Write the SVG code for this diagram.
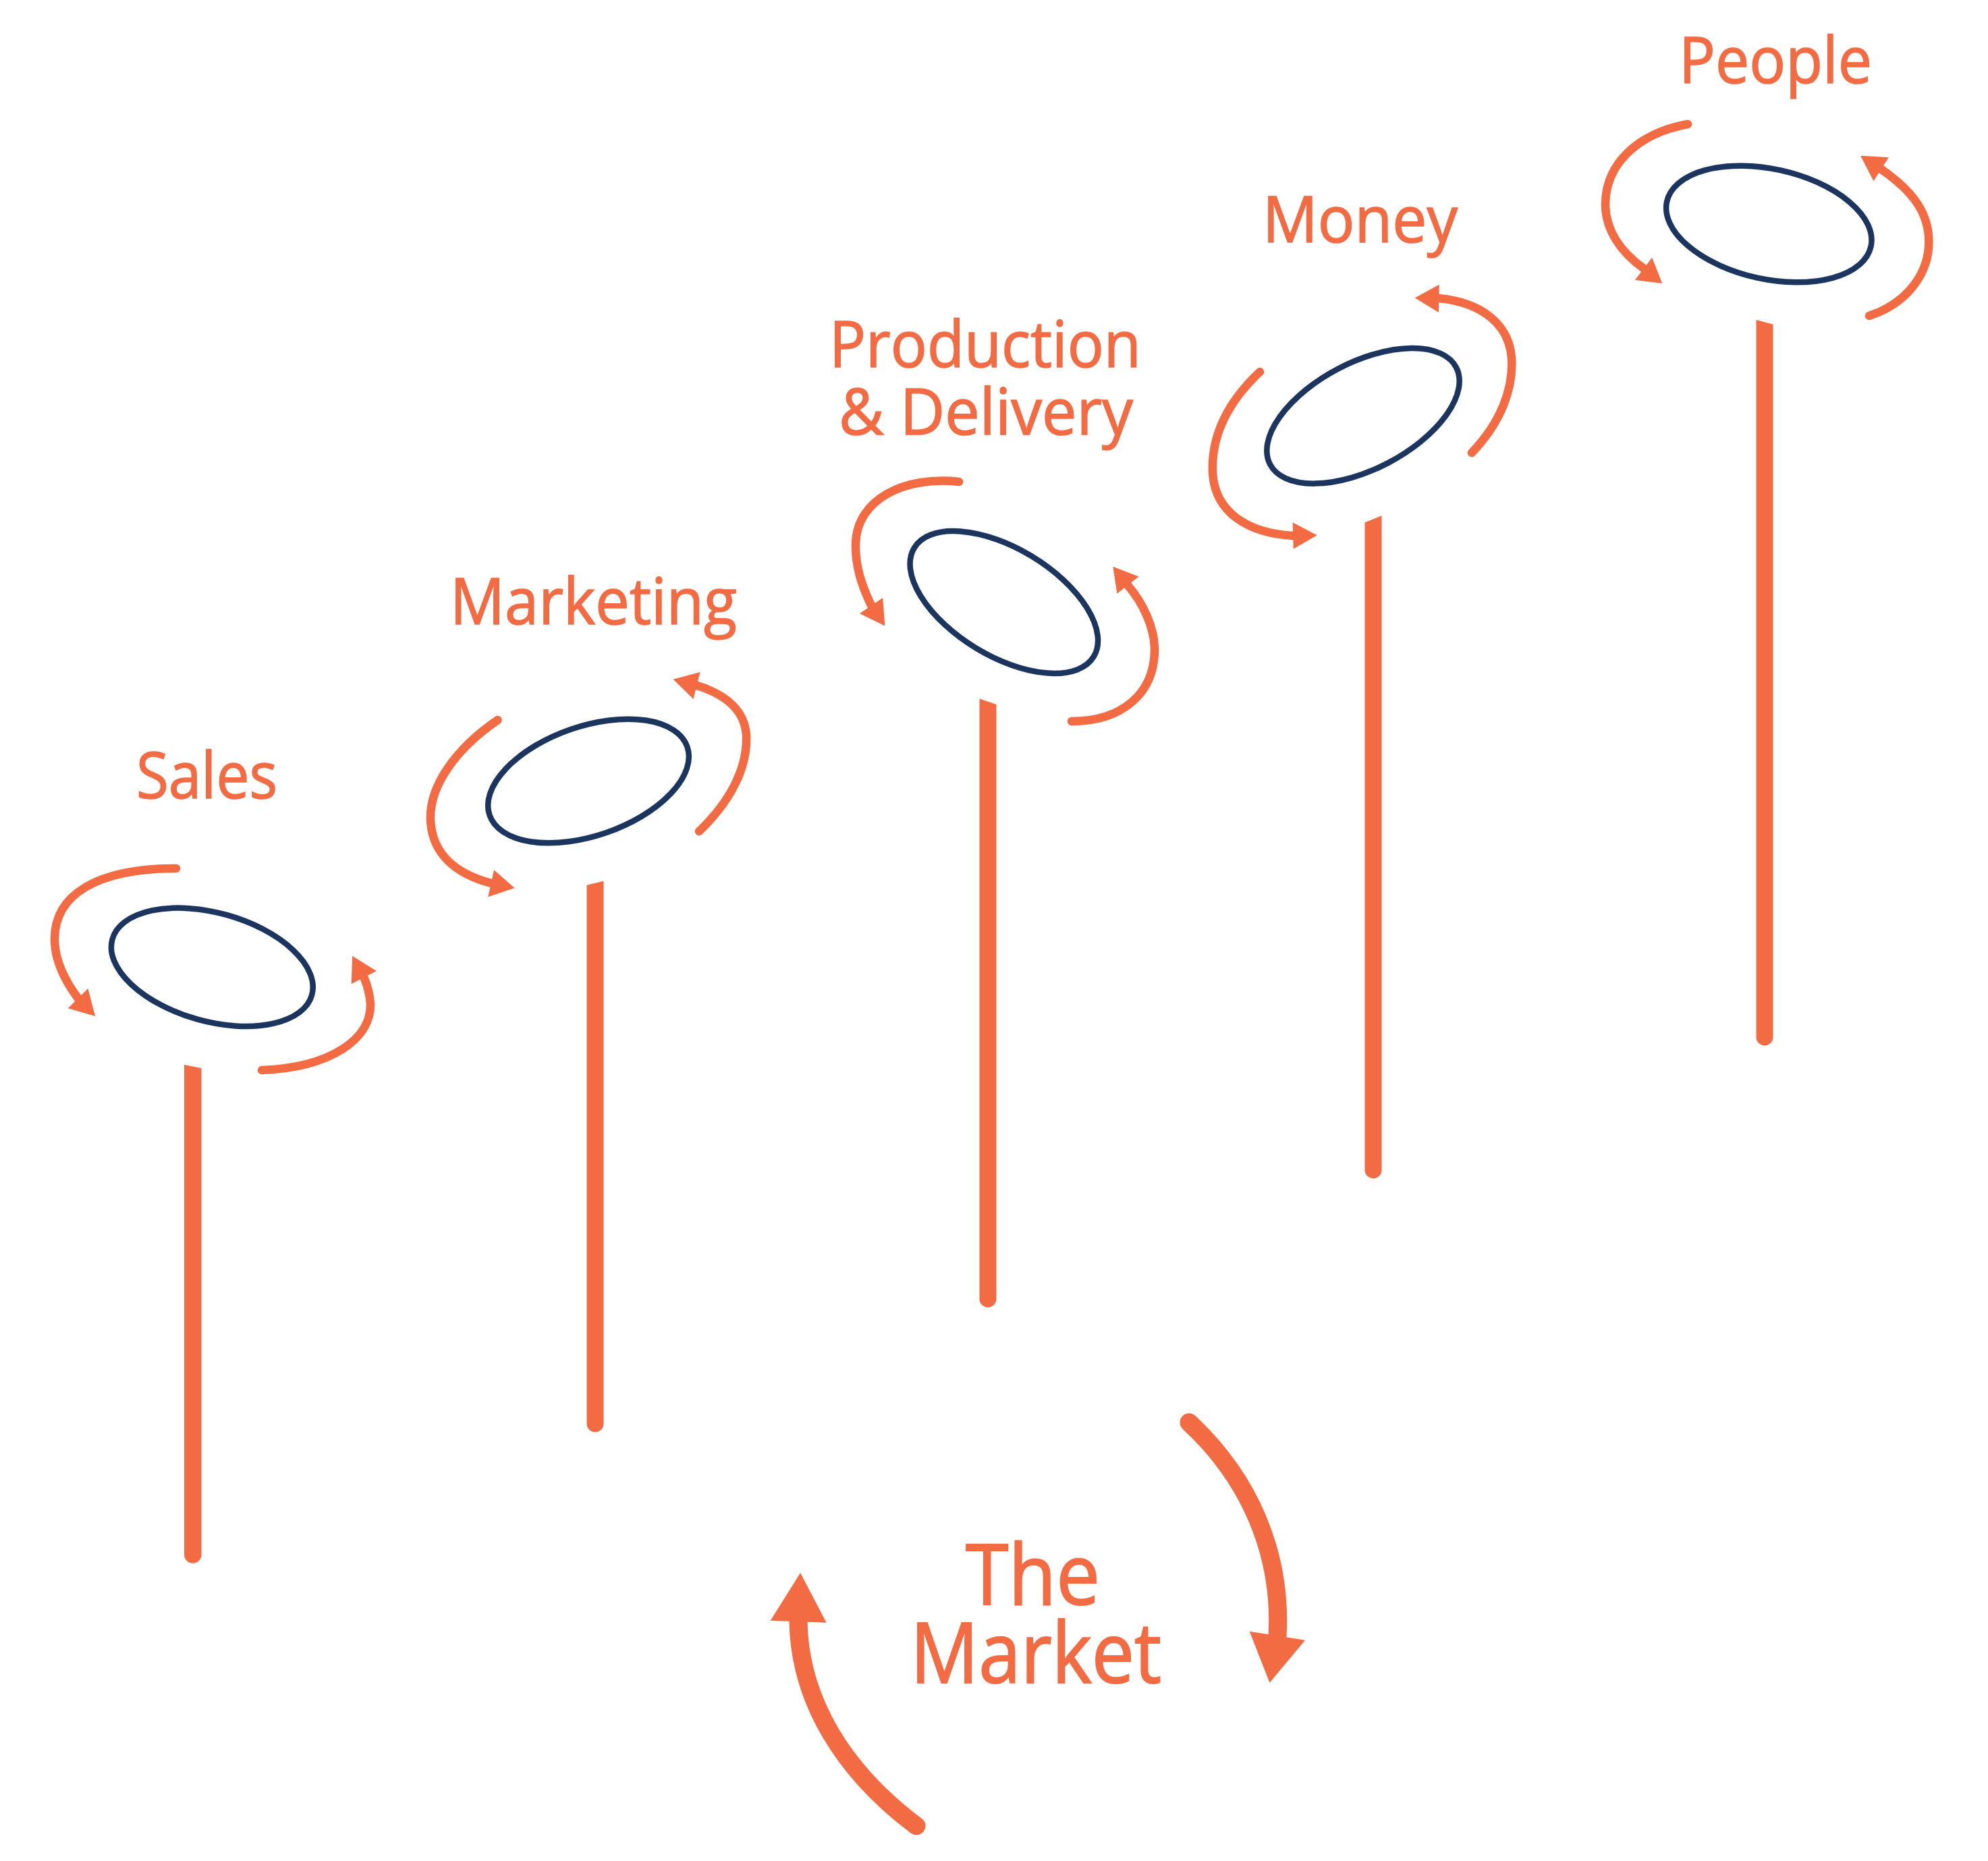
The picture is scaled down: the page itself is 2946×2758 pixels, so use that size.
<svg xmlns="http://www.w3.org/2000/svg" width="2946" height="2758" viewBox="0 0 2946 2758">
<style>
.lbl{font-family:"Open Sans","Noto Sans","Liberation Sans",sans-serif;fill:#F26B43;stroke:#F26B43;stroke-width:1.5;font-size:95px}
.big{font-size:124px;stroke-width:2}
.plate{fill:none;stroke:#1C355E;stroke-width:8.5}
.arc{fill:none;stroke:#F26B43;stroke-width:12.5;stroke-linecap:round}
.arcL{fill:none;stroke:#F26B43;stroke-width:27;stroke-linecap:round}
.head{fill:#F26B43}
.pole{fill:#F26B43}
</style>
<rect width="2946" height="2758" fill="#fff"/>
<g id="sales">
<text class="lbl" x="202" y="1183" textLength="209" lengthAdjust="spacingAndGlyphs">Sales</text>
<ellipse class="plate" cx="314.3" cy="1433.3" rx="153.5" ry="80.3" transform="rotate(15.6 314.3 1433.3)"/>
<path class="pole" d="M273,1578 L298.5,1583 L298.5,2304 A12.75,12.75 0 0 1 273,2304 Z"/>
</g>
<g id="marketing">
<text class="lbl" x="667" y="925" textLength="425" lengthAdjust="spacingAndGlyphs">Marketing</text>
<ellipse class="plate" cx="872" cy="1157.5" rx="155" ry="81" transform="rotate(-19.1 872 1157.5)"/>
<path class="pole" d="M869.5,1311.7 L894.5,1305.7 L894.5,2110 A12.5,12.5 0 0 1 869.5,2110 Z"/>
</g>
<g id="production">
<text class="lbl" x="1229" y="543.5" textLength="462" lengthAdjust="spacingAndGlyphs">Production</text>
<text class="lbl" x="1243" y="644" textLength="436" lengthAdjust="spacingAndGlyphs">&amp; Delivery</text>
<ellipse class="plate" cx="1487.8" cy="892.5" rx="155.5" ry="79.6" transform="rotate(31.2 1487.8 892.5)"/>
<path class="pole" d="M1451.5,1035.5 L1476.5,1044 L1476.5,1925 A12.5,12.5 0 0 1 1451.5,1925 Z"/>
</g>
<g id="money">
<text class="lbl" x="1871" y="359.3" textLength="289" lengthAdjust="spacingAndGlyphs">Money</text>
<ellipse class="plate" cx="2020" cy="616.3" rx="155.5" ry="79" transform="rotate(-27.5 2020 616.3)"/>
<path class="pole" d="M2022.5,774.3 L2047.5,764.3 L2047.5,1734 A12.5,12.5 0 0 1 2022.5,1734 Z"/>
</g>
<g id="people">
<text class="lbl" x="2488" y="122.7" textLength="286" lengthAdjust="spacingAndGlyphs">People</text>
<ellipse class="plate" cx="2621.3" cy="332" rx="154.8" ry="81.5" transform="rotate(12.4 2621.3 332)"/>
<path class="pole" d="M2602.5,474 L2627.5,480.7 L2627.5,1537 A12.5,12.5 0 0 1 2602.5,1537 Z"/>
</g>
<g id="market">
<text class="lbl big" x="1431" y="2378" textLength="199" lengthAdjust="spacingAndGlyphs">The</text>
<text class="lbl big" x="1349" y="2493.7" textLength="372" lengthAdjust="spacingAndGlyphs">Market</text>
</g>
<g id="connectors">
<path class="arc" d="M261,1287 C145,1287 79,1325 81,1395 C82,1425 95,1452 116,1480"/>
<polygon class="head" points="100.7,1494.3 141.1,1506 130.4,1465"/>
<path class="arc" d="M388,1586 C490,1582 550,1540 549,1488 C548,1474 545,1462 540,1450"/>
<polygon class="head" points="520.7,1458.3 522.1,1416.7 557.9,1439"/>

<path class="arc" d="M737.5,1067 C675,1110 636,1165 638,1215 C640,1265 675,1295 728,1309"/>
<polygon class="head" points="732.1,1289.3 762.5,1316 723.2,1329.3"/>
<path class="arc" d="M1036,1232 C1080,1190 1108,1140 1106,1090 C1104,1055 1078,1030 1033,1016"/>
<polygon class="head" points="1037.5,996 997.5,1006.7 1027.5,1036"/>

<path class="arc" d="M1421,714 C1340,705 1270,740 1268,805 C1267,840 1278,870 1291,897"/>
<polygon class="head" points="1273.9,909.3 1311.4,927.4 1308.2,886.1"/>
<path class="arc" d="M1588,1069 C1660,1069 1712,1030 1711,960 C1710,930 1695,895 1671,867"/>
<polygon class="head" points="1687.5,854.6 1649.3,839.8 1655.4,879.8"/>

<path class="arc" d="M1867,551 C1815,600 1795,650 1797,700 C1800,760 1850,790 1916,794"/>
<polygon class="head" points="1915.7,774.3 1951.7,793.2 1916.7,813.6"/>
<path class="arc" d="M2181,671 C2225,625 2243,575 2240,530 C2236,480 2195,448 2132,442"/>
<polygon class="head" points="2132.7,421.8 2096.7,441.4 2132,462.9"/>

<path class="arc" d="M2501,184 C2425,198 2378,245 2379,305 C2380,340 2400,372 2436,398"/>
<polygon class="head" points="2422.9,415 2463.2,420 2448.2,381.7"/>
<path class="arc" d="M2770,468 C2830,448 2862,400 2858,350 C2855,310 2830,280 2788,251"/>
<polygon class="head" points="2798.9,233.3 2757.1,230.7 2776.4,268.3"/>

<path class="arcL" d="M1762,2108 C1850,2190 1900,2300 1893,2424"/>
<polygon class="head" points="1851.7,2417.8 1881.5,2493.7 1934.1,2430.8"/>
<path class="arcL" d="M1358,2706 C1250,2625 1185,2520 1183,2403"/>
<polygon class="head" points="1141.7,2401.7 1186.1,2331 1224.6,2404.8"/>
</g>
</svg>
